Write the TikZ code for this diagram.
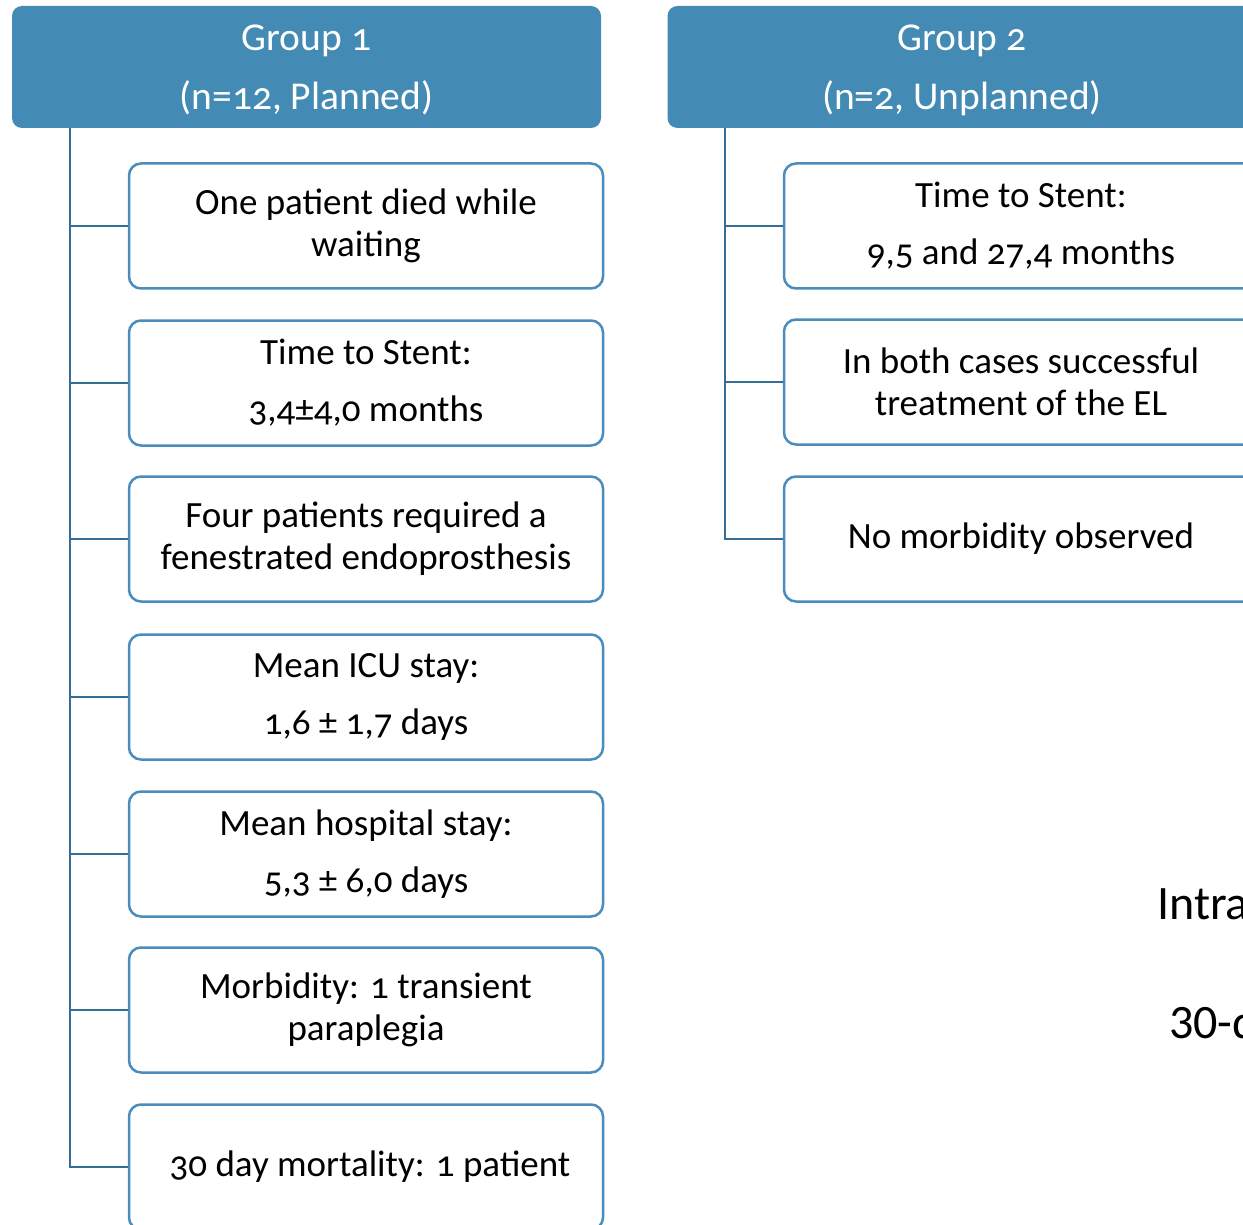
\documentclass[tikz,border=0pt]{standalone}
\usepackage{fontspec}
\setmainfont{Carlito}[Numbers=OldStyle]
\newfontfamily\calib{Carlito}
\definecolor{hdrblue}{HTML}{438AB5}
\definecolor{boxblue}{HTML}{4A8CBB}
\definecolor{linblue}{HTML}{336F94}
\begin{document}
\begin{tikzpicture}[x=1pt,y=-1pt,
  header/.style={rectangle, rounded corners=10pt, fill=hdrblue, minimum width=589pt, minimum height=122pt, text=white, font=\fontsize{39.5}{59}\selectfont, align=center, inner sep=0pt, text depth=0pt},
  itembox/.style={rectangle, rounded corners=12pt, draw=boxblue, line width=2.5pt, fill=white, minimum width=474pt, minimum height=125pt, font=\fontsize{37}{42}\selectfont, align=center, inner sep=0pt},
  trunk/.style={draw=linblue, line width=2.6pt},
  sidetext/.style={font=\calib\fontsize{48}{50}\selectfont, inner sep=0pt, anchor=base west}]
\useasboundingbox (0,0) rectangle (1243,1225);
\clip (0,0) rectangle (1243,1225);
% headers
\node[header] (h1) at (306.5,67) {Group 1\\(n=12, Planned)};
\node[header] (h2) at (962,67) {Group 2\\(n=2, Unplanned)};
% group 1 boxes
\node[itembox] (a1) at (366,226) {One patient died while\\waiting};
\node[itembox] (a2) at (366,383) {Time to Stent:\\[15pt]3,4±4,0 months};
\node[itembox] (a3) at (366,539) {Four patients required a\\fenestrated endoprosthesis};
\node[itembox] (a4) at (366,697) {Mean ICU stay:\\[15pt]1,6 ± 1,7 days};
\node[itembox] (a5) at (366,854) {Mean hospital stay:\\[15pt]5,3 ± 6,0 days};
\node[itembox] (a6) at (366,1010) {Morbidity: 1 transient\\paraplegia};
\node[itembox] (a7) at (366,1167) {\hspace{8pt}30 day mortality: 1 patient};
% group 2 boxes
\node[itembox] (b1) at (1021,226) {Time to Stent:\\[15pt]9,5 and 27,4 months};
\node[itembox] (b2) at (1021,382) {In both cases successful\\treatment of the EL};
\node[itembox] (b3) at (1021,539) {No morbidity observed};
% trunks
\coordinate (t1) at (70,128);
\coordinate (t2) at (725,128);
\draw[trunk] (t1) |- (a7.west);
\foreach \k in {1,...,6} {\draw[trunk] (a\k.west) -- (a\k.west -| t1);}
\draw[trunk] (t2) |- (b3.west);
\foreach \k in {1,2} {\draw[trunk] (b\k.west) -- (b\k.west -| t2);}
% truncated side texts
\node[sidetext] (s1) at (1157,919) {Intra};
\node[sidetext] (s2) at (1169,1038) {30-day};
\end{tikzpicture}
\end{document}
